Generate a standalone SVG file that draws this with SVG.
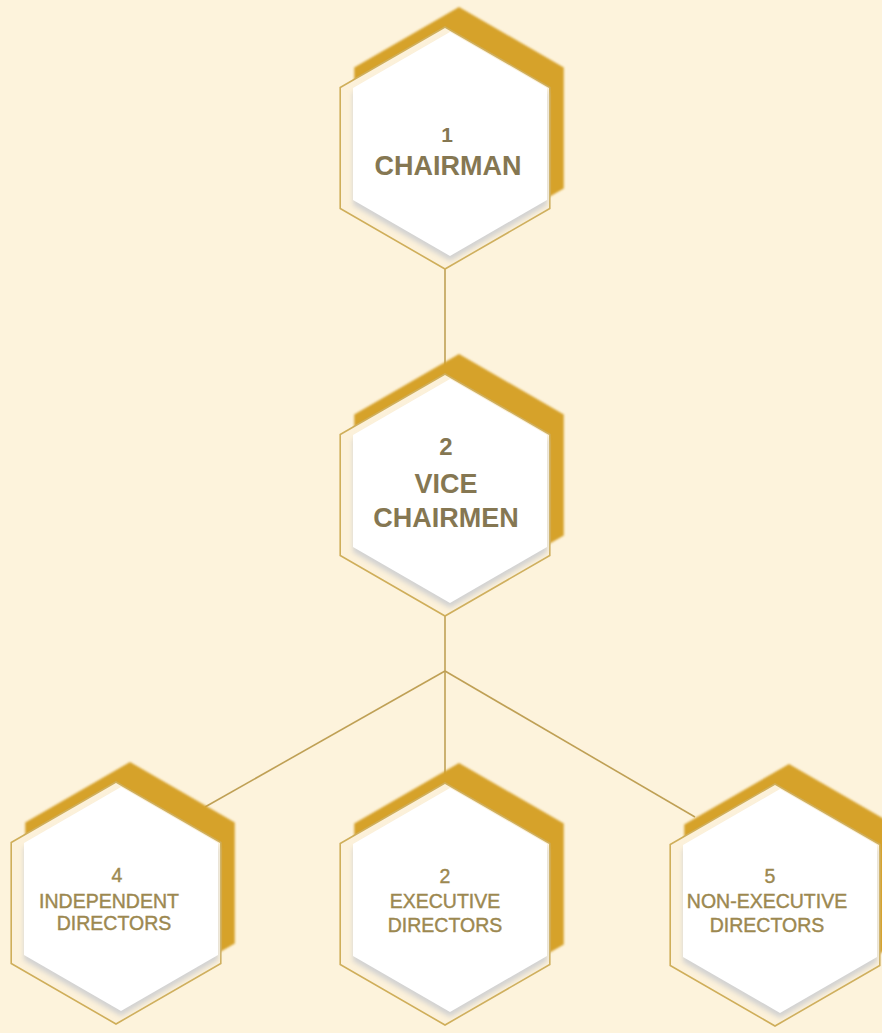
<svg xmlns="http://www.w3.org/2000/svg" xmlns:xlink="http://www.w3.org/1999/xlink" width="882" height="1033" viewBox="0 0 882 1033">
<style>
.bg{fill:#fdf3dc}
.gold{fill:#d6a22c}
.outline{fill:#fcf1da;stroke:#cfae5a;stroke-width:1.6}
.shadow{fill:#d2d2d2}
.white{fill:#ffffff}
.conn{stroke:#bfa055;stroke-width:1.6;fill:none}
.t{font-family:"Liberation Sans",Arial,sans-serif;text-anchor:middle}
.big{font-size:27px;font-weight:bold;fill:#857752}
.num{font-weight:bold;fill:#857752}
.small{font-size:19.5px;fill:#9c8850;stroke:#9c8850;stroke-width:0.4}
</style>
<defs>
<filter id="blur" x="-20%" y="-20%" width="140%" height="140%"><feGaussianBlur stdDeviation="2.5"/></filter>
<filter id="soft" x="-10%" y="-10%" width="120%" height="120%"><feGaussianBlur stdDeviation="1"/></filter>
<polygon id="hexR" points="0,-121 104.8,-60.5 104.8,60.5 0,121 -104.8,60.5 -104.8,-60.5"/>
<polygon id="hexS" points="0,-112 97,-56 97,56 0,112 -97,56 -97,-56"/>
<g id="hexShape">
<use xlink:href="#hexR" class="gold" transform="translate(14,-20)" filter="url(#soft)"/>
<use xlink:href="#hexR" class="outline"/>
<use xlink:href="#hexS" class="shadow" transform="translate(5,1)" filter="url(#blur)"/>
<use xlink:href="#hexS" class="white" transform="translate(5,-4)"/>
</g>
</defs>
<rect class="bg" x="0" y="0" width="882" height="1033"/>
<g id="connectors">
<line class="conn" x1="445" y1="268" x2="445" y2="370"/>
<line class="conn" x1="445" y1="615" x2="445" y2="671"/>
<line class="conn" x1="445" y1="671" x2="205" y2="807"/>
<line class="conn" x1="445" y1="671" x2="445" y2="780"/>
<line class="conn" x1="445" y1="671" x2="695" y2="817"/>
</g>
<g id="node-chairman">
<use xlink:href="#hexShape" transform="translate(445,148)"/>
<text class="t num" x="447" y="142" font-size="21">1</text>
<text class="t big" x="448" y="175">CHAIRMAN</text>
</g>
<g id="node-vice-chairmen">
<use xlink:href="#hexShape" transform="translate(445,495)"/>
<text class="t num" x="446" y="455" font-size="24">2</text>
<text class="t big" x="446" y="493">VICE</text>
<text class="t big" x="446" y="527">CHAIRMEN</text>
</g>
<g id="node-independent">
<use xlink:href="#hexShape" transform="translate(116,903)"/>
<text class="t small" x="117" y="882" font-size="15">4</text>
<text class="t small" x="109" y="908">INDEPENDENT</text>
<text class="t small" x="114" y="930">DIRECTORS</text>
</g>
<g id="node-executive">
<use xlink:href="#hexShape" transform="translate(445,904)"/>
<text class="t small" x="445" y="883" font-size="15">2</text>
<text class="t small" x="445" y="908">EXECUTIVE</text>
<text class="t small" x="445" y="932">DIRECTORS</text>
</g>
<g id="node-non-executive">
<use xlink:href="#hexShape" transform="translate(775,905)"/>
<text class="t small" x="770" y="883" font-size="15">5</text>
<text class="t small" x="767" y="908">NON-EXECUTIVE</text>
<text class="t small" x="767" y="932">DIRECTORS</text>
</g>
</svg>
